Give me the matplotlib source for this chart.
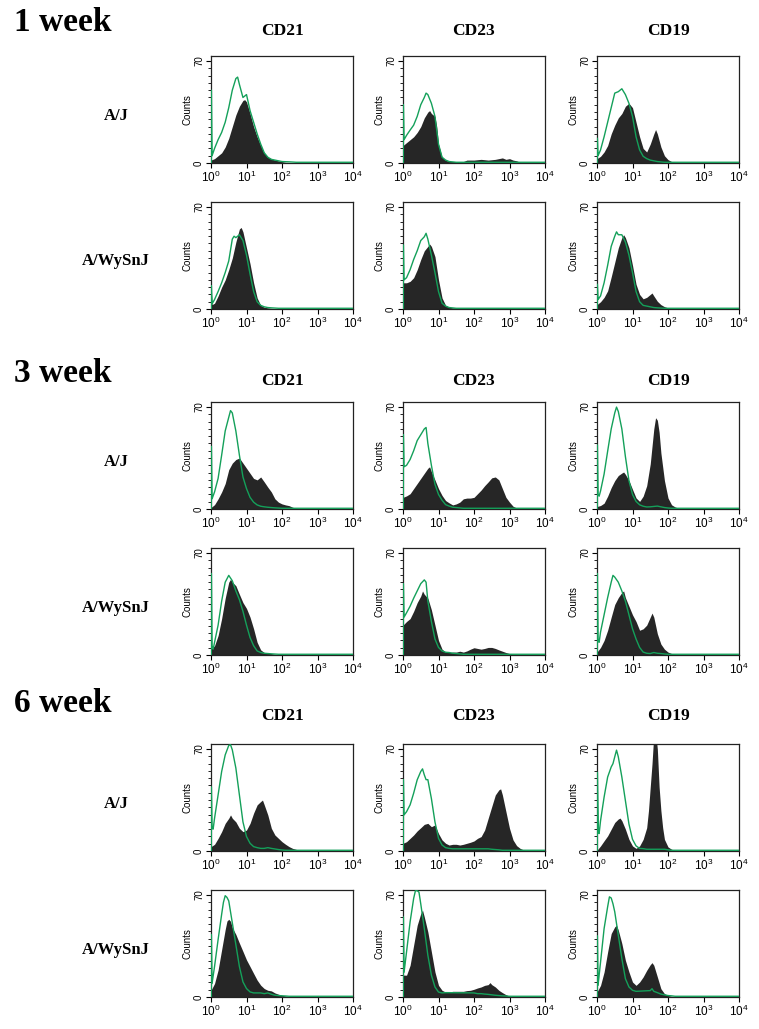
import numpy as np
import matplotlib
matplotlib.use("Agg")
import matplotlib.pyplot as plt
from matplotlib.ticker import LogLocator, NullFormatter, FixedLocator, MultipleLocator

plt.rcParams["font.family"] = "Liberation Sans"
plt.rcParams["mathtext.fontset"] = "custom"
plt.rcParams["mathtext.rm"] = "Liberation Sans"

weeks = ["1 week", "3 week", "6 week"]
strains = ["A/J", "A/WySnJ"]
markers = ["CD21", "CD23", "CD19"]

# each curve: (log10 fluorescence, counts); *_pos = stained (filled), *_ctl = isotype control (green line)
w1_aj_cd21_pos = [(0, 2), (0.1, 3), (0.2, 5), (0.3, 7), (0.4, 11), (0.5, 17), (0.6, 25), (0.7, 33), (0.8, 39), (0.9, 43), (0.95, 43.5), (1.0, 42), (1.1, 34), (1.2, 25), (1.3, 18), (1.4, 12), (1.5, 7), (1.6, 4), (1.7, 3), (1.8, 2), (1.9, 1.5), (2.0, 1), (2.1, 0.5), (2.3, 0.3), (2.4, 0)]
w1_aj_cd21_ctl = [(0.01, 0), (0.01, 50), (0.03, 5), (0.1, 10), (0.2, 16), (0.3, 21), (0.4, 28), (0.5, 38), (0.6, 50), (0.7, 58), (0.75, 59), (0.8, 54), (0.9, 45), (1.0, 47), (1.1, 36), (1.2, 28), (1.3, 20), (1.4, 13), (1.5, 7), (1.6, 4), (1.7, 2.5), (1.8, 2), (1.9, 1.5), (2.0, 1), (2.2, 0.8), (2.4, 0.5), (4.0, 0.5)]
w1_aj_cd23_pos = [(0, 12), (0.1, 14), (0.2, 16), (0.3, 18), (0.4, 21), (0.5, 25), (0.6, 31), (0.7, 35), (0.75, 36), (0.8, 34), (0.9, 32), (0.95, 25), (1.0, 13), (1.1, 4), (1.2, 2), (1.3, 1), (1.7, 1), (1.8, 2), (2.0, 2), (2.2, 2.5), (2.4, 2), (2.6, 2.5), (2.8, 3.5), (2.9, 2.5), (3.0, 3), (3.1, 2), (3.2, 1.5), (3.3, 0.5), (3.35, 0)]
w1_aj_cd23_ctl = [(0.01, 0), (0.01, 40), (0.03, 16), (0.1, 19), (0.2, 22.6), (0.3, 26), (0.4, 32), (0.5, 40), (0.6, 45), (0.65, 48), (0.7, 47), (0.8, 41), (0.9, 32), (1.0, 13), (1.1, 4), (1.2, 2), (1.3, 1), (1.5, 0.5), (4.0, 0.5)]
w1_aj_cd19_pos = [(0, 3), (0.1, 4.6), (0.2, 7.6), (0.3, 12), (0.4, 20), (0.5, 26), (0.6, 31), (0.7, 34), (0.8, 39), (0.9, 41), (1.0, 38), (1.1, 28), (1.2, 18), (1.3, 10), (1.4, 7.6), (1.5, 13), (1.6, 20), (1.65, 23), (1.7, 20), (1.8, 11), (1.9, 5), (2.0, 2.3), (2.1, 1), (2.2, 0.5), (2.3, 0.3), (2.4, 0)]
w1_aj_cd19_ctl = [(0.01, 0), (0.01, 17), (0.03, 5), (0.1, 9), (0.2, 18), (0.3, 28), (0.4, 38), (0.5, 48), (0.6, 49), (0.7, 51), (0.8, 47), (0.9, 41), (1.0, 32), (1.1, 18), (1.2, 9), (1.3, 4.6), (1.4, 3), (1.5, 2), (1.6, 1.5), (1.7, 1), (1.9, 0.5), (4.0, 0.5)]

w1_wy_cd21_pos = [(0.01, 0), (0.01, 12), (0.03, 3), (0.1, 4), (0.2, 9), (0.3, 15), (0.4, 20), (0.5, 27), (0.6, 35), (0.7, 46), (0.8, 55), (0.85, 56), (0.9, 53), (1.0, 42), (1.1, 31), (1.2, 18), (1.3, 7.6), (1.4, 2.5), (1.5, 1.2), (1.6, 0.8), (1.7, 0.5), (1.8, 0.3), (1.9, 0)]
w1_wy_cd21_ctl = [(0.01, 0), (0.01, 16), (0.03, 3.5), (0.1, 6.5), (0.2, 12), (0.3, 18), (0.4, 25), (0.5, 33), (0.6, 48), (0.65, 50), (0.7, 49), (0.8, 51), (0.9, 47), (1.0, 37), (1.1, 24), (1.2, 12), (1.3, 5), (1.4, 2.5), (1.5, 1.5), (1.6, 1), (1.7, 0.8), (1.9, 0.5), (4.0, 0.5)]
w1_wy_cd23_pos = [(0, 18), (0.1, 18), (0.2, 19), (0.3, 21.5), (0.4, 27), (0.5, 34), (0.6, 40), (0.7, 43), (0.75, 44.6), (0.8, 43), (0.9, 36), (1.0, 20), (1.1, 7.6), (1.2, 2.5), (1.3, 1.2), (1.4, 0.8), (2.9, 0.8), (3.0, 0.5), (3.1, 0)]
w1_wy_cd23_ctl = [(0.01, 0), (0.01, 44), (0.03, 20), (0.1, 21.5), (0.2, 27), (0.3, 34), (0.4, 40), (0.5, 47), (0.6, 49.6), (0.65, 52), (0.7, 48), (0.8, 37), (0.9, 25), (1.0, 12), (1.1, 4), (1.2, 2), (1.3, 1), (1.5, 0.5), (4.0, 0.5)]
w1_wy_cd19_pos = [(0, 3), (0.1, 5), (0.2, 8), (0.3, 12.5), (0.4, 22), (0.5, 32), (0.6, 42), (0.7, 49), (0.75, 51), (0.8, 49), (0.9, 42), (1.0, 30), (1.1, 17), (1.2, 10), (1.3, 7), (1.4, 8), (1.5, 10), (1.55, 11), (1.6, 9), (1.7, 5.3), (1.8, 3), (1.9, 1.6), (2.0, 0.8), (2.1, 0.5), (2.2, 0.2), (2.3, 0)]
w1_wy_cd19_ctl = [(0.01, 0), (0.01, 17), (0.03, 6.5), (0.1, 9), (0.2, 18), (0.3, 30), (0.4, 43), (0.5, 50), (0.55, 53), (0.6, 51), (0.7, 51), (0.8, 46), (0.9, 37), (1.0, 25), (1.1, 12), (1.2, 5), (1.3, 2.5), (1.4, 2), (1.5, 1.5), (1.6, 1), (1.7, 0.8), (1.9, 0.5), (4.0, 0.5)]

w3_aj_cd21_pos = [(0, 1), (0.1, 3), (0.2, 7), (0.3, 11.7), (0.4, 17.5), (0.5, 27), (0.6, 31.5), (0.7, 34), (0.8, 35), (0.9, 31.5), (1.0, 28), (1.1, 24.5), (1.2, 21), (1.3, 20), (1.4, 22), (1.5, 18.6), (1.6, 15), (1.7, 11.7), (1.8, 7), (1.9, 4.7), (2.0, 3.5), (2.1, 2.8), (2.2, 2.3), (2.3, 1.2), (2.4, 0.5), (2.5, 0)]
w3_aj_cd21_ctl = [(0.01, 0), (0.01, 43), (0.03, 7), (0.1, 11.7), (0.2, 21), (0.3, 37), (0.4, 53.6), (0.5, 63), (0.55, 67.6), (0.6, 66), (0.7, 53.6), (0.8, 37), (0.9, 22), (1.0, 14), (1.1, 8), (1.2, 4.7), (1.3, 2.8), (1.4, 1.9), (1.5, 1.5), (1.6, 1.2), (1.7, 1), (1.8, 0.8), (2.0, 0.5), (4.0, 0.5)]
w3_aj_cd23_pos = [(0, 8), (0.1, 9), (0.2, 10.5), (0.3, 14), (0.4, 17.5), (0.5, 21), (0.6, 24.5), (0.7, 28), (0.75, 29), (0.8, 25.6), (0.9, 20), (1.0, 14), (1.1, 9.3), (1.2, 5.8), (1.3, 4.2), (1.4, 2.8), (1.5, 3.5), (1.6, 4.7), (1.7, 7), (1.8, 7.5), (1.9, 7.5), (2.0, 8), (2.1, 10.5), (2.2, 13), (2.3, 16), (2.4, 18.6), (2.5, 21.4), (2.6, 22), (2.7, 20), (2.8, 14), (2.9, 8), (3.0, 4.7), (3.1, 1.9), (3.2, 0.7), (3.3, 0.3), (3.4, 0)]
w3_aj_cd23_ctl = [(0.01, 0), (0.01, 51), (0.03, 29), (0.1, 30), (0.2, 34), (0.3, 40), (0.4, 47), (0.5, 51), (0.6, 55), (0.65, 56), (0.7, 45), (0.8, 30), (0.9, 17), (1.0, 10), (1.1, 6), (1.2, 3), (1.3, 2), (1.4, 1.2), (1.5, 1), (1.7, 0.5), (4.0, 0.5)]
w3_aj_cd19_pos = [(0, 1.7), (0.1, 2.4), (0.2, 4), (0.3, 8.8), (0.4, 14.7), (0.5, 19.5), (0.6, 23), (0.7, 24.7), (0.75, 25.4), (0.8, 23.8), (0.9, 19.5), (1.0, 13.5), (1.1, 7.6), (1.2, 5.2), (1.3, 8.8), (1.4, 16), (1.5, 31), (1.55, 43), (1.6, 55), (1.65, 62.7), (1.7, 61), (1.75, 52.7), (1.8, 38.5), (1.9, 19.5), (2.0, 7.6), (2.1, 2.9), (2.2, 1.4), (2.3, 0.5), (2.4, 0)]
w3_aj_cd19_ctl = [(0.01, 0), (0.01, 44), (0.03, 10), (0.06, 8.8), (0.1, 12.4), (0.2, 24), (0.3, 39.7), (0.4, 55), (0.5, 66), (0.55, 70), (0.6, 67), (0.7, 55), (0.8, 36), (0.9, 19.5), (1.0, 10), (1.1, 5.2), (1.2, 2.9), (1.3, 1.9), (1.4, 1.4), (1.5, 1.5), (1.7, 2), (1.8, 1.5), (1.9, 1), (2.0, 0.7), (2.1, 0.5), (4.0, 0.5)]

w3_wy_cd21_pos = [(0, 4), (0.1, 6.4), (0.2, 13.4), (0.3, 25), (0.4, 39), (0.5, 50), (0.55, 52), (0.6, 50), (0.7, 47.6), (0.8, 41.7), (0.9, 36), (1.0, 32), (1.1, 26), (1.2, 18), (1.3, 8.7), (1.4, 3.5), (1.5, 1.7), (1.6, 1.2), (1.7, 1), (1.8, 0.5), (1.9, 0.3), (2.0, 0)]
w3_wy_cd21_ctl = [(0.01, 0), (0.01, 56), (0.03, 6.4), (0.06, 4), (0.1, 8.7), (0.2, 20.5), (0.3, 37), (0.4, 50), (0.5, 54.7), (0.6, 51), (0.7, 44), (0.8, 38), (0.9, 30), (1.0, 20.5), (1.1, 12), (1.2, 6.4), (1.3, 2.8), (1.4, 1.7), (1.5, 1.2), (1.6, 1), (1.7, 0.8), (1.9, 0.5), (4.0, 0.5)]
w3_wy_cd23_pos = [(0, 20.5), (0.1, 23), (0.2, 25), (0.3, 30), (0.4, 36), (0.5, 40.5), (0.55, 44), (0.6, 41.7), (0.7, 39), (0.8, 31), (0.9, 20.5), (1.0, 10), (1.1, 4), (1.2, 2), (1.3, 1.7), (1.4, 2), (1.5, 2), (1.6, 2.6), (1.7, 2), (1.8, 2.8), (1.9, 4), (2.0, 5), (2.1, 4.5), (2.2, 4), (2.3, 4.5), (2.4, 5.2), (2.5, 5.2), (2.6, 4.5), (2.7, 3.5), (2.8, 2.6), (2.9, 1.7), (3.0, 1), (3.1, 0.3), (3.2, 0)]
w3_wy_cd23_ctl = [(0.01, 0), (0.01, 49), (0.03, 26), (0.1, 29), (0.2, 33.5), (0.3, 39), (0.4, 44), (0.5, 49), (0.6, 51.6), (0.65, 50), (0.7, 37), (0.8, 23), (0.9, 11), (1.0, 5.2), (1.1, 2.8), (1.2, 1.9), (1.3, 1.7), (1.4, 1.2), (1.5, 1), (1.7, 0.5), (4.0, 0.5)]
w3_wy_cd19_pos = [(0, 2), (0.1, 5.2), (0.2, 10), (0.3, 17), (0.4, 26), (0.5, 34.7), (0.6, 39.4), (0.7, 43), (0.75, 44), (0.8, 39.4), (0.9, 33.5), (1.0, 27.6), (1.1, 23), (1.2, 17), (1.3, 18), (1.4, 20.5), (1.5, 26), (1.55, 28.8), (1.6, 26), (1.7, 14.6), (1.8, 7.5), (1.9, 4), (2.0, 2), (2.1, 1), (2.2, 0.5), (2.3, 0)]
w3_wy_cd19_ctl = [(0.01, 0), (0.01, 56), (0.03, 10), (0.06, 8.7), (0.1, 15.8), (0.2, 27.6), (0.3, 39.4), (0.4, 50), (0.45, 54.7), (0.5, 53.5), (0.6, 50), (0.7, 44), (0.8, 37), (0.9, 27.6), (1.0, 18), (1.1, 11), (1.2, 5.2), (1.3, 2), (1.4, 1.2), (1.5, 1), (1.6, 1.7), (1.7, 1.2), (1.8, 1), (1.9, 0.7), (2.0, 0.5), (4.0, 0.5)]

w6_aj_cd21_pos = [(0, 3), (0.1, 4.6), (0.2, 8.7), (0.3, 13.3), (0.4, 19), (0.5, 22.5), (0.55, 24.8), (0.6, 22.5), (0.7, 20), (0.8, 15.6), (0.9, 13.3), (1.0, 14.4), (1.1, 19), (1.2, 26), (1.3, 31.7), (1.4, 34), (1.45, 35), (1.5, 31.7), (1.6, 24.8), (1.7, 15.6), (1.8, 11), (1.9, 8.7), (2.0, 6.4), (2.1, 4.6), (2.2, 3), (2.3, 1.8), (2.4, 1.1), (2.5, 0.5), (2.6, 0)]
w6_aj_cd21_ctl = [(0.01, 0), (0.01, 44), (0.03, 15.6), (0.06, 15), (0.1, 22.5), (0.2, 38.5), (0.3, 54.6), (0.4, 66), (0.5, 72.5), (0.55, 73), (0.6, 69.5), (0.7, 57), (0.8, 38.5), (0.9, 20), (1.0, 9.9), (1.1, 5.3), (1.2, 3), (1.3, 2.3), (1.4, 1.8), (1.5, 1.8), (1.6, 2.3), (1.7, 1.8), (1.8, 1.4), (1.9, 1), (2.0, 0.7), (2.1, 0.5), (4.0, 0.5)]
w6_aj_cd23_pos = [(0, 5.3), (0.1, 6.4), (0.2, 8.7), (0.3, 11), (0.4, 13.8), (0.5, 16), (0.6, 18.3), (0.7, 19), (0.8, 16.7), (0.9, 17.9), (1.0, 12), (1.1, 7.6), (1.2, 5.3), (1.3, 4.1), (1.4, 4.6), (1.5, 4.6), (1.6, 4.1), (1.7, 4.6), (1.8, 5.3), (1.9, 6), (2.0, 6.9), (2.1, 8.7), (2.2, 9.9), (2.3, 14.4), (2.4, 22.5), (2.5, 30.5), (2.6, 38.5), (2.7, 42), (2.75, 42.7), (2.8, 38.5), (2.9, 27), (3.0, 15.6), (3.1, 7.6), (3.2, 3.7), (3.3, 1.8), (3.4, 0.7), (3.5, 0)]
w6_aj_cd23_ctl = [(0.01, 0), (0.01, 49), (0.03, 24.8), (0.1, 27), (0.2, 31.7), (0.3, 39.7), (0.4, 48.9), (0.5, 54.6), (0.55, 56.4), (0.6, 52.3), (0.65, 49), (0.7, 49), (0.8, 36), (0.9, 20), (1.0, 8.7), (1.1, 4.1), (1.2, 2.3), (1.3, 1.8), (1.4, 1.5), (2.4, 1.5), (2.5, 1.2), (2.6, 1), (2.7, 0.8), (2.8, 0.5), (4.0, 0.5)]
w6_aj_cd19_pos = [(0, 0.5), (0.1, 3.5), (0.2, 7), (0.3, 10.4), (0.4, 15), (0.5, 19.6), (0.6, 22), (0.65, 22.6), (0.7, 20.8), (0.8, 15), (0.9, 8), (1.0, 3.5), (1.1, 1.8), (1.2, 3.5), (1.3, 8), (1.4, 16), (1.45, 27.7), (1.5, 44), (1.55, 60), (1.6, 80), (1.65, 82), (1.7, 70), (1.75, 44), (1.8, 27.7), (1.85, 16), (1.9, 8), (2.0, 2.8), (2.1, 1.2), (2.2, 0.5), (2.3, 0)]
w6_aj_cd19_ctl = [(0.01, 0), (0.01, 54), (0.04, 12.7), (0.06, 12), (0.1, 20.8), (0.2, 37), (0.3, 50.8), (0.4, 57.7), (0.45, 60), (0.5, 64.7), (0.55, 69.3), (0.6, 64.7), (0.7, 50.8), (0.8, 34.6), (0.9, 18.5), (1.0, 8), (1.1, 3.5), (1.2, 1.8), (1.3, 1.6), (1.4, 1.2), (1.9, 1.2), (2.0, 0.8), (2.1, 0.5), (4.0, 0.5)]

w6_wy_cd21_pos = [(0, 4.6), (0.1, 9.3), (0.2, 18.6), (0.3, 32.5), (0.4, 46.4), (0.45, 52.2), (0.5, 53.4), (0.55, 52), (0.6, 47.6), (0.7, 43), (0.8, 37), (0.9, 31.3), (1.0, 25.5), (1.1, 20.9), (1.2, 16.2), (1.3, 11.6), (1.4, 8.1), (1.5, 5.8), (1.6, 4.6), (1.7, 4.2), (1.8, 2.8), (1.9, 1.9), (2.0, 1.2), (2.1, 0.7), (2.2, 0.3), (2.3, 0)]
w6_wy_cd21_ctl = [(0.01, 0), (0.01, 43), (0.03, 9.3), (0.1, 21), (0.2, 39.4), (0.3, 56.8), (0.35, 65), (0.4, 69.6), (0.45, 68.4), (0.5, 66), (0.6, 51), (0.7, 36), (0.8, 20.9), (0.9, 10.4), (1.0, 5.8), (1.1, 3.5), (1.2, 2.8), (1.3, 2.8), (1.4, 2.8), (1.5, 2.3), (1.6, 2.8), (1.7, 1.9), (1.8, 1.2), (1.9, 1), (2.0, 0.8), (2.1, 0.7), (2.2, 0.5), (4.0, 0.5)]
w6_wy_cd23_pos = [(0, 15), (0.1, 15), (0.2, 21.8), (0.3, 35.6), (0.4, 49.3), (0.5, 57.3), (0.55, 59.6), (0.6, 55), (0.7, 44.7), (0.8, 31), (0.9, 17.2), (1.0, 8), (1.1, 4.6), (1.2, 3.4), (1.3, 3.4), (1.4, 3.9), (1.7, 3.9), (1.8, 4.4), (1.9, 4.6), (2.0, 5.3), (2.1, 6.2), (2.2, 6.9), (2.3, 8), (2.4, 8.5), (2.45, 9.9), (2.5, 8.5), (2.6, 6.9), (2.7, 4.6), (2.8, 3), (2.9, 1.6), (3.0, 0.5), (3.1, 0)]
w6_wy_cd23_ctl = [(0.01, 0), (0.01, 55), (0.03, 17), (0.1, 31), (0.2, 51.6), (0.3, 67.7), (0.35, 73), (0.4, 73), (0.45, 72), (0.5, 64), (0.6, 47), (0.7, 28.7), (0.8, 15), (0.9, 6.9), (1.0, 3.4), (1.1, 2.8), (1.2, 3), (2.0, 2.8), (2.1, 2.3), (2.2, 2.3), (2.3, 2), (2.4, 1.8), (2.5, 1.5), (2.6, 1.2), (2.7, 1), (2.8, 0.8), (2.9, 0.7), (3.0, 0.5), (4.0, 0.5)]
w6_wy_cd19_pos = [(0, 3.4), (0.1, 8), (0.2, 17.2), (0.3, 31), (0.4, 43.6), (0.5, 48.2), (0.55, 49.3), (0.6, 45.9), (0.7, 36.7), (0.8, 25.2), (0.9, 17.2), (1.0, 10.3), (1.1, 8), (1.2, 10.3), (1.3, 13.8), (1.4, 18.3), (1.5, 22.2), (1.55, 23.6), (1.6, 21.8), (1.7, 13.8), (1.8, 5.7), (1.9, 2.3), (2.0, 1.1), (2.1, 0.5), (2.2, 0.3), (2.3, 0)]
w6_wy_cd19_ctl = [(0.01, 0), (0.01, 42), (0.03, 8), (0.1, 24), (0.2, 47), (0.3, 62), (0.35, 68.8), (0.4, 68), (0.45, 64), (0.5, 58.5), (0.6, 42.4), (0.7, 26.4), (0.8, 12.6), (0.9, 6.9), (1.0, 4.6), (1.1, 3.9), (1.5, 4.4), (1.55, 5.7), (1.6, 3.9), (1.7, 3), (1.8, 2), (1.9, 1.5), (2.0, 1), (2.1, 0.8), (2.2, 0.5), (4.0, 0.5)]

curves = {
    ("1 week", "A/J"): [(w1_aj_cd21_pos, w1_aj_cd21_ctl), (w1_aj_cd23_pos, w1_aj_cd23_ctl), (w1_aj_cd19_pos, w1_aj_cd19_ctl)],
    ("1 week", "A/WySnJ"): [(w1_wy_cd21_pos, w1_wy_cd21_ctl), (w1_wy_cd23_pos, w1_wy_cd23_ctl), (w1_wy_cd19_pos, w1_wy_cd19_ctl)],
    ("3 week", "A/J"): [(w3_aj_cd21_pos, w3_aj_cd21_ctl), (w3_aj_cd23_pos, w3_aj_cd23_ctl), (w3_aj_cd19_pos, w3_aj_cd19_ctl)],
    ("3 week", "A/WySnJ"): [(w3_wy_cd21_pos, w3_wy_cd21_ctl), (w3_wy_cd23_pos, w3_wy_cd23_ctl), (w3_wy_cd19_pos, w3_wy_cd19_ctl)],
    ("6 week", "A/J"): [(w6_aj_cd21_pos, w6_aj_cd21_ctl), (w6_aj_cd23_pos, w6_aj_cd23_ctl), (w6_aj_cd19_pos, w6_aj_cd19_ctl)],
    ("6 week", "A/WySnJ"): [(w6_wy_cd21_pos, w6_wy_cd21_ctl), (w6_wy_cd23_pos, w6_wy_cd23_ctl), (w6_wy_cd19_pos, w6_wy_cd19_ctl)],
}

W, H = 759, 1029
fig = plt.figure(figsize=(W / 100, H / 100), dpi=100)

col_left = [211, 403, 597]
row_top = [56, 202, 402, 548, 744, 890]
ax_w, ax_h = 142, 107
week_y = [22, 374, 703]
header_y = [31, 381, 716]

fill_col = "#262626"
line_col = "#14a05a"
serif = "Liberation Serif"


def fx(px):
    return px / W


def fy(py):
    return 1 - py / H


for wi, week in enumerate(weeks):
    fig.text(fx(14), fy(week_y[wi]), week, family=serif, weight="bold",
             fontsize=24, ha="left", va="center")
    for ci, m in enumerate(markers):
        fig.text(fx(col_left[ci] + ax_w / 2), fy(header_y[wi]), m, family=serif,
                 weight="bold", fontsize=12.5, ha="center", va="center")
    for si, strain in enumerate(strains):
        r = wi * 2 + si
        top = row_top[r]
        fig.text(fx(116), fy(top + ax_h / 2 + 6), strain, family=serif,
                 weight="bold", fontsize=12, ha="center", va="center")
        for ci in range(3):
            pos, ctl = curves[(week, strain)][ci]
            ax = fig.add_axes([fx(col_left[ci]), fy(top + ax_h), ax_w / W, ax_h / H])
            p = np.array(pos, dtype=float)
            c = np.array(ctl, dtype=float)
            ax.fill_between(10 ** p[:, 0], 0, p[:, 1], color=fill_col, lw=0)
            # control line drawn above the spines so the channel-0 spike shows on the left edge
            ax.plot(10 ** c[:, 0], c[:, 1], color=line_col, lw=1.0, zorder=3)
            ax.set_xscale("log")
            ax.set_xlim(1, 1e4)
            ax.set_ylim(0, 73.5)
            ax.xaxis.set_major_locator(FixedLocator([1, 10, 100, 1000, 10000]))
            ax.set_xticklabels([r"$\mathregular{10^{%d}}$" % k for k in range(5)])
            ax.xaxis.set_minor_locator(LogLocator(base=10, subs=np.arange(2, 10)))
            ax.xaxis.set_minor_formatter(NullFormatter())
            ax.yaxis.set_major_locator(FixedLocator([0, 70]))
            ax.yaxis.set_minor_locator(MultipleLocator(5))
            ax.set_yticklabels(["0", "70"], rotation=90, va="center")
            ax.tick_params(axis="both", which="major", direction="out", length=3.5,
                           width=0.8, labelsize=7)
            ax.tick_params(axis="x", which="major", labelsize=8.5, pad=1.5)
            ax.tick_params(axis="y", which="major", pad=1.5)
            ax.tick_params(axis="both", which="minor", direction="out", length=2,
                           width=0.6)
            ax.set_ylabel("Counts", fontsize=7, labelpad=1)
            for s in ax.spines.values():
                s.set_linewidth(0.9)
                s.set_color("#222222")

fig.savefig("out.png", dpi=100)
